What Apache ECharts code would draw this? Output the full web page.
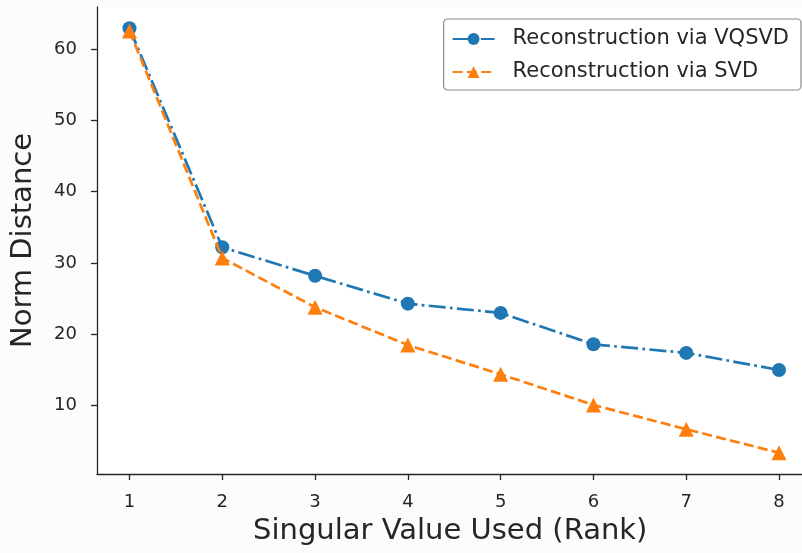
<!DOCTYPE html>
<html>
<head>
<meta charset="utf-8">
<script src="https://cdn.jsdelivr.net/npm/echarts@6/dist/echarts.min.js"></script>
<style>
html,body{margin:0;padding:0;background:#fcfcfc;overflow:hidden;width:802px;height:553px;}
#c{width:812px;height:553px;}
</style>
</head>
<body>
<div id="c"></div>
<script>
const ranks = [1, 2, 3, 4, 5, 6, 7, 8];
const vqsvd = [62.9, 32.2, 28.2, 24.3, 23.0, 18.6, 17.4, 15.0];
const svd = [62.5, 30.7, 23.8, 18.5, 14.4, 10.1, 6.7, 3.4];
const yTicks = [10, 20, 30, 40, 50, 60];
const seriesNames = ['Reconstruction via VQSVD', 'Reconstruction via SVD'];

const allY = vqsvd.concat(svd);
const yLo = Math.min(...allY), yHi = Math.max(...allY);
const yPad = (yHi - yLo) * 0.05;
const xLo = Math.min(...ranks), xHi = Math.max(...ranks);
const xPad = (xHi - xLo) * 0.05;

const font = 'DejaVu Sans';
const axisColor = '#262626';

const chart = echarts.init(document.getElementById('c'), null, {renderer: 'canvas'});
chart.setOption({
  backgroundColor: '#fcfcfc',
  animation: false,
  grid: {
    left: 97, top: 7, right: 0.5, bottom: 79,
    show: true, backgroundColor: '#ffffff', borderWidth: 0
  },
  legend: {
    orient: 'vertical',
    right: 11, top: 19,
    padding: [8, 12, 6, 8],
    itemGap: 9,
    itemWidth: 42,
    itemHeight: 15,
    backgroundColor: 'rgba(255,255,255,0.8)',
    borderColor: '#8a8a8a',
    borderWidth: 1.2,
    borderRadius: 4,
    textStyle: {fontFamily: font, fontSize: 21, color: axisColor, lineHeight: 24, padding: [0, 0, 0, 13]},
    data: seriesNames
  },
  xAxis: {
    type: 'value',
    min: xLo - xPad, max: xHi + xPad,
    name: 'Singular Value Used (Rank)',
    nameLocation: 'middle',
    nameGap: 43,
    nameTextStyle: {fontFamily: font, fontSize: 29, color: axisColor, padding: [0, 8, 0, 0]},
    axisLine: {show: true, onZero: false, lineStyle: {color: axisColor, width: 1.3}},
    axisTick: {show: true, length: 6, inside: false, customValues: ranks, lineStyle: {color: axisColor, width: 1.3}},
    axisLabel: {customValues: ranks, margin: 19, fontFamily: font, fontSize: 18, color: axisColor},
    splitLine: {show: false}
  },
  yAxis: {
    type: 'value',
    min: yLo - yPad, max: yHi + yPad,
    name: 'Norm Distance',
    nameLocation: 'middle',
    nameGap: 59,
    nameRotate: 90,
    nameTextStyle: {fontFamily: font, fontSize: 29, color: axisColor},
    axisLine: {show: true, onZero: false, lineStyle: {color: axisColor, width: 1.3}},
    axisTick: {show: true, length: 6, inside: false, customValues: yTicks, lineStyle: {color: axisColor, width: 1.3}},
    axisLabel: {customValues: yTicks, margin: 20, fontFamily: font, fontSize: 18, color: axisColor},
    splitLine: {show: false}
  },
  series: [
    {
      name: seriesNames[0],
      type: 'line',
      data: ranks.map((r, i) => [r, vqsvd[i]]),
      symbol: 'circle',
      symbolSize: 14,
      color: '#1f77b4',
      itemStyle: {color: '#1f77b4'},
      lineStyle: {color: '#1f77b4', width: 2.7, type: [17, 4.3, 2.7, 4.3]},
      z: 2
    },
    {
      name: seriesNames[1],
      type: 'line',
      data: ranks.map((r, i) => [r, svd[i]]),
      symbol: 'triangle',
      symbolSize: 15,
      color: '#ff7f0e',
      itemStyle: {color: '#ff7f0e'},
      lineStyle: {color: '#ff7f0e', width: 2.7, type: [10, 4.3]},
      z: 3
    }
  ]
});
</script>
</body>
</html>
